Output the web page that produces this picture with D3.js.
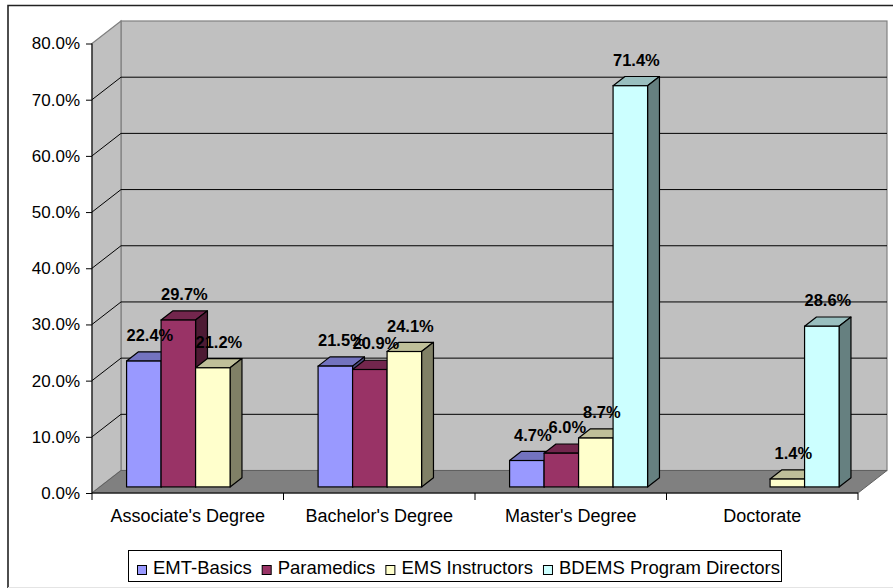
<!DOCTYPE html>
<html><head><meta charset="utf-8">
<script src="https://cdn.jsdelivr.net/npm/d3@7"></script>
<style>body{margin:0;background:#fff}svg{display:block}text{font-family:"Liberation Sans",Arial,sans-serif;fill:#000}</style>
</head><body><svg id="c" width="893" height="588"></svg>
<script>
const categories = ["Associate's Degree", "Bachelor's Degree", "Master's Degree", "Doctorate"];
const seriesNames = ["EMT-Basics", "Paramedics", "EMS Instructors", "BDEMS Program Directors"];
const emtBasics = [22.4, 21.5, 4.7, null];
const paramedics = [29.7, 20.9, 6.0, null];
const emsInstructors = [21.2, 24.1, 8.7, 1.4];
const bdemsDirectors = [null, null, 71.4, 28.6];
const yTicks = [0, 10, 20, 30, 40, 50, 60, 70, 80];
const seriesColors = ["#9999FF", "#993366", "#FFFFCC", "#CCFFFF"];

const seriesValues = [emtBasics, paramedics, emsInstructors, bdemsDirectors];

const svg = d3.select("#c");
const X0 = 92, X1 = 858, Y0 = 493, YT = 43.5, DX = 29, DY = -22.5;
const F1 = 0.27, F2 = 0.68;

const y = d3.scaleLinear().domain([0, 80]).range([Y0, YT]);
const xCat = d3.scaleBand().domain(categories).range([X0, X1]);
const pad = xCat.bandwidth() * 0.1397;
const xSer = d3.scaleBand().domain(seriesNames).range([pad, xCat.bandwidth() - pad]);

function shade(c, k) { const r = d3.rgb(c); return d3.rgb(r.r * k, r.g * k, r.b * k).formatHex(); }

// outer border
svg.append("path").attr("d", `M8,590 L8,5.5 L900,5.5`).attr("fill", "none").attr("stroke", "#222").attr("stroke-width", 1.6);
svg.append("line").attr("x1", 8).attr("x2", 900).attr("y1", 587.5).attr("y2", 587.5).attr("stroke", "#e4e4e4");

// back wall
svg.append("rect").attr("x", X0 + DX).attr("y", YT + DY).attr("width", X1 - X0).attr("height", Y0 - YT)
  .attr("fill", "#C0C0C0").attr("stroke", "#808080").attr("stroke-width", 1.2);
// side wall
svg.append("polygon").attr("points", [[X0, YT], [X0 + DX, YT + DY], [X0 + DX, Y0 + DY], [X0, Y0]].join(" "))
  .attr("fill", "#C0C0C0").attr("stroke", "#808080").attr("stroke-width", 1.2);
// floor
svg.append("polygon").attr("points", [[X0, Y0], [X1, Y0], [X1 + DX, Y0 + DY], [X0 + DX, Y0 + DY]].join(" "))
  .attr("fill", "#808080").attr("stroke", "#606060");

// gridlines
const grid = svg.append("g");
yTicks.filter(t => t > 0 && t < 80).forEach(t => {
  const yy = y(t);
  grid.append("path").attr("d", `M${X0},${yy} L${X0 + DX},${yy + DY} L${X1 + DX},${yy + DY}`)
    .attr("fill", "none").attr("stroke", "#000").attr("stroke-width", 1);
});

// axes
const yAxis = d3.axisLeft(y).tickValues(yTicks).tickSize(6).tickPadding(6).tickFormat(d => d3.format(".1f")(d) + "%");
const ga = svg.append("g").attr("transform", `translate(${X0},0)`).call(yAxis);
ga.select(".domain").attr("stroke", "#000").attr("d", `M0,${YT}V${Y0}`);
ga.selectAll(".tick line").attr("stroke", "#000");
ga.selectAll(".tick text").attr("font-size", 17).attr("font-family", "Liberation Sans, Arial, sans-serif").attr("fill", "#000");

svg.append("line").attr("x1", X0).attr("x2", X1).attr("y1", Y0).attr("y2", Y0).attr("stroke", "#000");
const catEdges = categories.map(c => xCat(c)).concat([X1]);
catEdges.forEach(x => svg.append("line").attr("x1", x).attr("x2", x).attr("y1", Y0).attr("y2", Y0 + 7).attr("stroke", "#000"));
categories.forEach(c => {
  svg.append("text").attr("x", xCat(c) + xCat.bandwidth() / 2).attr("y", 522).attr("text-anchor", "middle")
    .attr("font-size", 18).text(c);
});

// bars
const bars = svg.append("g");
const labels = [];
categories.forEach((c, ci) => {
  seriesNames.forEach((s, si) => {
    const v = seriesValues[si][ci];
    if (v == null) return;
    const xl = xCat(c) + xSer(s) + F1 * DX, xr = xl + xSer.bandwidth();
    const top = y(v) + F1 * DY, bot = Y0 + F1 * DY;
    const ddx = (F2 - F1) * DX, ddy = (F2 - F1) * DY;
    const col = seriesColors[si];
    bars.append("polygon").attr("points", [[xl, top], [xr, top], [xr + ddx, top + ddy], [xl + ddx, top + ddy]].join(" "))
      .attr("fill", shade(col, 0.75)).attr("stroke", "#000").attr("stroke-width", 1.2).attr("stroke-linejoin", "round");
    bars.append("polygon").attr("points", [[xr, top], [xr + ddx, top + ddy], [xr + ddx, bot + ddy], [xr, bot]].join(" "))
      .attr("fill", shade(col, 0.5)).attr("stroke", "#000").attr("stroke-width", 1.2).attr("stroke-linejoin", "round");
    bars.append("rect").attr("x", xl).attr("y", top).attr("width", xr - xl).attr("height", bot - top)
      .attr("fill", col).attr("stroke", "#000").attr("stroke-width", 1.2);
    labels.push({ x: (xl + xr) / 2 + 6, y: top - 20, t: d3.format(".1f")(v) + "%" });
  });
});
labels.forEach(l => {
  svg.append("text").attr("transform", `translate(${l.x},${l.y}) scale(0.97,1)`).attr("text-anchor", "middle")
    .attr("font-size", 17).attr("font-weight", "bold").text(l.t);
});

// legend
const lg = svg.append("g");
lg.append("rect").attr("x", 128.5).attr("y", 550.5).attr("width", 653).attr("height", 31)
  .attr("fill", "#fff").attr("stroke", "#000").attr("stroke-width", 1);
let lx = 137;
seriesNames.forEach((s, si) => {
  lg.append("rect").attr("x", lx + 0.5).attr("y", 565.5).attr("width", 9).attr("height", 9)
    .attr("fill", seriesColors[si]).attr("stroke", "#000");
  const t = lg.append("text").attr("x", lx + 16).attr("y", 573.5).attr("font-size", 18.5).text(s);
  lx = lx + 16 + t.node().getComputedTextLength() + 10;
});
</script></body></html>
